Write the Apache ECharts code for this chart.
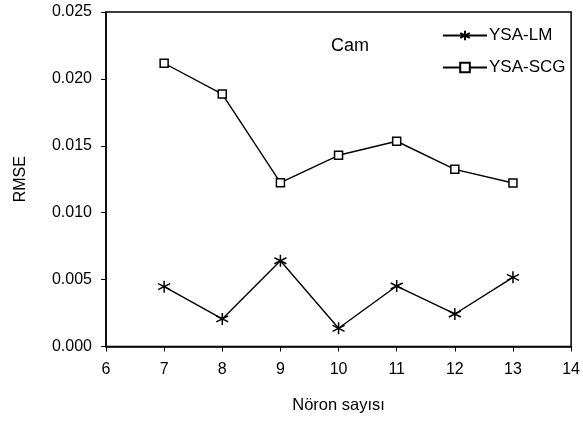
<!DOCTYPE html>
<html>
<head>
<meta charset="utf-8">
<script src="https://cdn.jsdelivr.net/npm/echarts@6/dist/echarts.min.js"></script>
<style>
  html, body { margin: 0; padding: 0; background: #fff; }
  #chart { width: 583px; height: 421px; }
</style>
</head>
<body>
<div id="chart"></div>
<script>
// Neuron counts on the x axis
const neurons = [7, 8, 9, 10, 11, 12, 13];
// RMSE for each training algorithm
const ysaLM = [0.00447, 0.00206, 0.00641, 0.00136, 0.00452, 0.00243, 0.00517];
const ysaSCG = [0.02117, 0.01887, 0.01224, 0.01429, 0.01534, 0.01324, 0.01222];
const seriesNames = ['YSA-LM', 'YSA-SCG'];

const FONT = '"Liberation Sans", Arial, sans-serif';
const asterisk = 'path://M0,-6L0,6M-5.2,-3L5.2,3M-5.2,3L5.2,-3';

const pairs = vals => neurons.map((n, i) => [n, vals[i]]);

const chart = echarts.init(document.getElementById('chart'), null, { renderer: 'canvas' });
chart.setOption({
  animation: false,
  backgroundColor: '#fff',
  textStyle: { fontFamily: FONT, color: '#000' },
  title: {
    text: 'Cam',
    left: 345,
    top: 32,
    textAlign: 'center',
    textStyle: { fontFamily: FONT, fontSize: 18, fontWeight: 'normal', color: '#000' }
  },
  grid: {
    left: 106, right: 10, top: 12, bottom: 74.5,
    show: true, borderColor: '#000', borderWidth: 1.5, backgroundColor: '#fff'
  },
  legend: {
    orient: 'vertical',
    left: 437,
    top: 22,
    itemWidth: 44,
    itemHeight: 12,
    itemGap: 15,
    textStyle: { fontFamily: FONT, fontSize: 17, color: '#000', padding: [0, 0, 0, -3] },
    data: seriesNames
  },
  xAxis: {
    type: 'value',
    min: 6, max: 14, interval: 1,
    name: 'Nöron sayısı',
    nameLocation: 'middle',
    nameGap: 50,
    nameTextStyle: { fontFamily: FONT, fontSize: 16.5, color: '#000' },
    axisLine: { show: true, onZero: false, lineStyle: { color: '#000', width: 1.5 } },
    axisTick: { show: true, inside: false, length: 5, lineStyle: { color: '#000', width: 1 } },
    axisLabel: { fontFamily: FONT, fontSize: 16, color: '#000', margin: 15 },
    splitLine: { show: false }
  },
  yAxis: {
    type: 'value',
    min: 0, max: 0.025, interval: 0.005,
    name: 'RMSE',
    nameLocation: 'middle',
    nameRotate: 90,
    nameGap: 77,
    nameTextStyle: { fontFamily: FONT, fontSize: 16, color: '#000' },
    axisLine: { show: true, lineStyle: { color: '#000', width: 1.5 } },
    axisTick: { show: true, inside: false, length: 5, lineStyle: { color: '#000', width: 1 } },
    axisLabel: {
      fontFamily: FONT, fontSize: 16, color: '#000', margin: 14,
      formatter: v => v.toFixed(3)
    },
    splitLine: { show: false }
  },
  series: [
    {
      name: seriesNames[0],
      type: 'line',
      data: pairs(ysaLM),
      symbol: asterisk,
      symbolSize: 12,
      showAllSymbol: true,
      lineStyle: { color: '#000', width: 1.4 },
      itemStyle: { color: '#000', borderColor: '#000', borderWidth: 1.5 }
    },
    {
      name: seriesNames[1],
      type: 'line',
      data: pairs(ysaSCG),
      symbol: 'rect',
      symbolSize: 8,
      showAllSymbol: true,
      lineStyle: { color: '#000', width: 1.4 },
      itemStyle: { color: '#fff', borderColor: '#000', borderWidth: 1.5 }
    }
  ]
});
</script>
</body>
</html>
